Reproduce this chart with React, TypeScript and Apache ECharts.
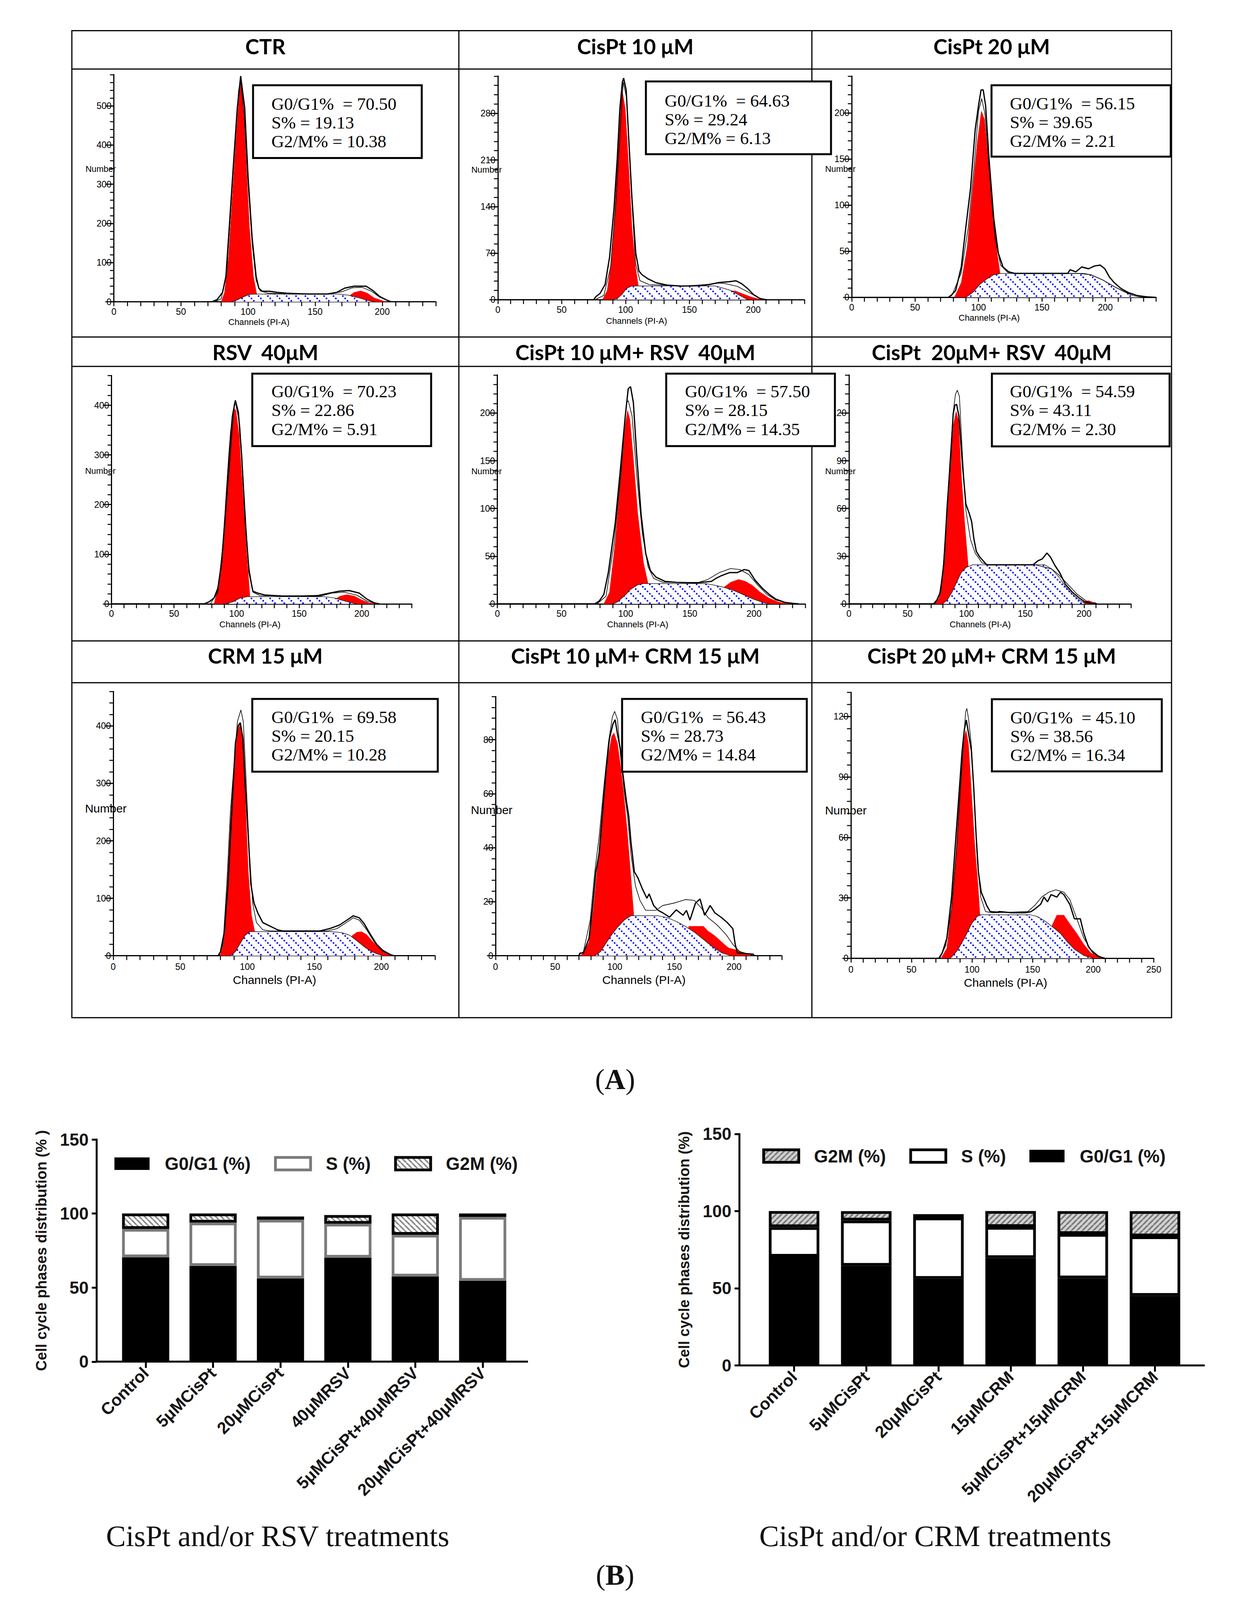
import React, { useEffect, useRef } from 'react';
import * as echarts from 'echarts';

const W = 3183;
const H = 4096;
// the photographed page is 4096px tall, the reference figure 4638px: vertical positions are compressed to fit
const SY = 4096 / 4638;
const Y = (v: number) => v * SY;

// ---------------- Panel A : cell-cycle histograms ----------------
const panelTitles = ['CTR', 'CisPt 10 μM', 'CisPt 20 μM', 'RSV  40μM', 'CisPt 10 μM+ RSV  40μM', 'CisPt  20μM+ RSV  40μM', 'CRM 15 μM', 'CisPt 10 μM+ CRM 15 μM', 'CisPt 20 μM+ CRM 15 μM'];
const g0g1Pct = [70.50, 64.63, 56.15, 70.23, 57.50, 54.59, 69.58, 56.43, 45.10];
const sPct = [19.13, 29.24, 39.65, 22.86, 28.15, 43.11, 20.15, 28.73, 38.56];
const g2mPct = [10.38, 6.13, 2.21, 5.91, 14.35, 2.30, 10.28, 14.84, 16.34];
const yTickValues = [[0, 100, 200, 300, 400, 500], [0, 70, 140, 210, 280], [0, 50, 100, 150, 200], [0, 100, 200, 300, 400], [0, 50, 100, 150, 200], [0, 30, 60, 90, 120], [0, 100, 200, 300, 400], [0, 20, 40, 60, 80], [0, 30, 60, 90, 120]];

const ctrEnv = [[0,0],[73,0],[77,6],[81,24],[83.5,65],[86,190],[89,345],[92,495],[94.5,576],[97.5,495],[100,320],[103,165],[106,65],[108,35],[110.5,27],[116,27],[122,24],[129,22],[144,20],[159,20],[166,24],[172,35],[179,40],[188,40],[193,29],[198,14],[203,5],[207,0]];
const ctrFit = [[75,0],[80,8],[84,70],[87,230],[90,400],[93,540],[94.5,565],[97,480],[100,300],[103,150],[106,55],[109,28],[115,22],[130,20],[160,20],[170,26],[178,36],[185,37],[192,27],[198,12],[205,2],[208,0]];
const ctrG1 = [[80,0],[82.5,24],[85.5,116],[88,253],[91,415],[94,560],[95.6,547],[98.4,370],[101,192],[104,65],[106.5,19],[106.6,0]];
const ctrS = [[88,0],[92,5],[96,12],[101,19],[106,20],[168,20],[175,17],[183,10],[190,3],[194,0]];
const ctrG2 = [[172,0],[174,12],[179,24],[184,28],[189,22],[194,10],[201,2],[204,0]];
const c10Env = [[0,0],[75,0],[77,5],[80,9.5],[84,23],[87.5,64],[91,138],[93.5,212],[95.5,286],[97.5,327],[98.5,333],[100.5,315],[102.5,242],[105,153],[108,70],[110.5,43],[113,37.5],[117.5,31.5],[124,25.5],[132.5,22],[143,20.5],[157,21],[166,23],[173.5,26],[180.5,27],[186.5,28.5],[191,24],[195.5,17],[200,8],[205,2],[210.5,0]];
const c10Fit = [[76,0],[83,6.5],[88.3,49],[92.7,153],[96.3,271],[98.2,327],[100.7,304],[104.3,168],[107.8,55],[111.3,28.7],[118.4,22.8],[146.8,20.7],[164.5,23],[173.4,25],[178.7,24],[187.6,20],[196.5,11],[203.5,3.5],[209,0]];
const c10G1 = [[82,0],[85.6,14],[88.3,49],[91.8,138],[94.5,227],[96.8,307],[97.5,313],[99.8,286],[102.5,197],[105,108],[107.8,49],[110,21],[110.1,0]];
const c10S = [[90,0],[93.6,2],[97.2,8],[100.7,17],[105,20.7],[170,20.7],[175,18.3],[182.3,14],[189.4,6.5],[195.6,0]];
const c10G2 = [[183,0],[183.1,13.3],[186,13.3],[191,9.5],[198,4.4],[203.5,1.5],[207,0]];
const c20Env = [[0,0],[76.3,0],[79,3],[82,7.5],[86.4,33],[90,76],[93.7,118],[97.4,182],[100,208],[102,225],[103.7,225],[105.6,208],[108.3,150],[112,86],[115.6,48],[119.3,33],[123.8,27.7],[128.4,26],[170.4,26],[172.2,30],[176.8,27.7],[181.4,33],[186.8,31],[191.4,34],[196,35],[199.6,31],[203.3,22],[207,16],[212.4,9.6],[218,5.3],[225,2],[232.5,0.6],[240,0]];
const c20Fit = [[76,0],[79,2],[86.4,26.7],[91.9,76],[96.4,140],[100,202],[102.5,215.6],[105,199.6],[108.3,140],[112.9,65],[117.4,35],[123,27],[130,26],[179.5,26],[188.7,24.5],[197.8,19],[207,11.7],[218,4.3],[229,1],[236,0]];
const c20G1 = [[81,0],[86.4,16],[91,54],[95.5,118],[99.2,170],[102.3,202],[104.7,193],[107.4,150],[111,97],[114.7,48],[117,26],[117.1,0]];
const c20S = [[90,0],[95.5,5.3],[101,14],[106.5,20],[112,24.5],[117.4,26],[183.2,26],[188.7,24.5],[197.8,19],[207,11.7],[214.2,6.4],[221.5,2],[229,0]];
const c20G2 = [[198,0],[203,7],[208,9],[213,5],[218,0]];
const rsvEnv = [[0,0],[74,0],[78,4],[82,12],[85,31.5],[88,83],[91,181],[94,300],[96.6,378],[99,410],[101.4,386],[104,300],[107,161.6],[110,63],[113,25.6],[116.8,21.7],[122.8,17.7],[136.6,15.8],[152.5,15.8],[164.4,16.5],[174.3,21.7],[182.2,25.6],[190,26.8],[198,21.7],[204,9.9],[210,2],[214,0]];
const rsvFit = [[79,0],[85,23.6],[90,142],[95,300],[98,402],[99.4,402],[102.6,358.6],[106,220.7],[109.3,82.8],[113,23.6],[118.8,16.5],[166,15],[176,21.7],[186,23.6],[196,17.7],[204,5.9],[212,0]];
const rsvG1 = [[82,0],[86,43],[89,122],[92,240],[95,347],[98,394],[99.4,390],[102,339],[105,220.7],[108,102.5],[110.5,19.7],[110.6,0]];
const rsvSPhase = [[91,0],[97,4],[103,12],[109,14.6],[170.3,14.6],[178,12],[186,6],[194,1],[196,0]];
const rsvG2 = [[177,0],[179,9.9],[183,15.8],[188,18.5],[194,15.8],[200,7.9],[206,2],[211,0]];
const c10rEnv = [[0,0],[75.9,0],[79.4,3],[83,10],[86.5,33],[91.8,84],[96.2,145.6],[99.7,197],[102,225.6],[103.8,227.7],[106,211],[108.6,156],[112,94],[115.6,53],[119.2,35],[123.6,28],[130.6,23.6],[139.5,22.6],[155.3,22],[162.4,23],[166.8,23.6],[170.3,26.7],[174.8,29.7],[181,32.8],[187,32.8],[192.4,36],[196,35],[201,24.6],[206.5,16.4],[211.8,10],[217,5],[224,1.6],[231,0.4],[234.8,0]];
const c10rFit = [[77.7,0],[84.7,8],[91,63.6],[96.2,135],[100.6,211],[102,213],[105,197],[108.6,135],[113,74],[117.4,39],[121.8,26.7],[128.9,22.6],[157,22.6],[164,25.6],[173,32.8],[181.8,37],[188.9,36],[196,30.8],[203,19.5],[210,10],[217,4],[226,1],[231,0]];
const c10rG1 = [[83,0],[87.4,12],[91.8,63.6],[95.3,119],[98.9,180.5],[101.5,202.7],[103.3,192.8],[106,151.8],[109.4,94.4],[113.9,43],[117.4,21.5],[117.5,0]];
const c10rS = [[90,0],[93.6,2],[98.9,8.2],[104,15.4],[109.4,20],[113.9,21.3],[162.4,21.3],[169.5,19.5],[176.5,17.4],[183.6,14.4],[190.6,10.3],[199.5,5],[208.3,1],[211.8,0]];
const c10rG2 = [[172,0],[176.5,17.4],[181.8,22.6],[188,25.6],[193.3,23.6],[198.6,19.5],[204.8,12.3],[211.8,6],[218.9,2],[226,0.4],[231,0]];
const c20rEnv = [[0,0],[72,0],[74.9,2.5],[77.8,7.4],[80.8,25.8],[83.7,62.8],[86.7,93.5],[88.7,119.4],[90.2,125],[91.6,125.5],[93.6,118],[96.6,87.4],[99.5,62.8],[102.5,56.6],[104.4,51.7],[106.4,40.6],[108.4,33],[111.3,29.5],[114.3,27],[117.2,24.6],[156.7,24.6],[160.6,27],[164.5,28.3],[168.5,32],[171.4,29.5],[175.4,24],[179.3,19.7],[184.2,12.3],[190,7.4],[196,3.7],[201,1.2],[206,0.2],[209,0.6],[210.8,0]];
const c20rFit = [[73,0],[76.8,5],[79.8,19.7],[82.8,50.5],[85.7,87.4],[88.7,120.6],[90.6,131.7],[92.2,134.4],[94,130.5],[96.6,93.5],[99.5,59],[103.4,40.6],[107.4,32],[113.3,25.8],[119.2,24.6],[158.6,24.6],[164.5,23.4],[172.4,22],[178.3,18.5],[186.2,12.3],[194,6.2],[202,1.8],[208,0]];
const c20rG1 = [[73,0],[76.8,3.7],[79.8,19.7],[82.8,44.3],[85.7,81.2],[88.7,112],[91.2,121],[93.2,115.7],[95.6,81.2],[98.5,50.5],[101.5,23.4],[101.6,0]];
const c20rS = [[79.8,0],[83.7,2.5],[87.7,7.4],[91.6,13.5],[95.6,19.7],[99.5,22.8],[105.4,24.6],[166.5,24.6],[172.4,22],[178.3,17.2],[184.2,11],[190,6.2],[196,2.5],[201,0.2],[202,0]];
const c20rG2 = [[196,0],[200,1.5],[204,2],[207,1.2],[210,0]];
const crmEnv = [[0,0],[78.2,0],[80,7],[82.8,41],[85.6,125],[88.4,251.6],[91.1,369.7],[93.3,401],[94.8,405.5],[96.7,378],[98.5,293.8],[100.7,209.5],[102.6,125],[105,91.5],[107.8,74.6],[111.5,57.7],[115.2,53.5],[118.9,49.3],[122.6,45.1],[126.2,43],[154,43],[161.4,47.2],[168.8,53.5],[174.3,62],[179,69.5],[183.5,66],[187.2,55.6],[191.9,36.7],[196.5,19.8],[201,9.3],[206.7,2],[209.4,0]];
const crmFit = [[79,0],[81.9,19.8],[84.7,125],[87.4,251.6],[90.2,336],[92.6,407.6],[95.2,427.8],[97,407.6],[98.9,315],[101.3,188.4],[104,91.5],[106.8,57.7],[111.5,45.1],[117,43],[159.5,43],[166.9,47.2],[172.5,55.6],[179,66],[183.5,62],[189,45.1],[194.6,24],[200.2,9.3],[205.7,2],[209.4,0]];
const crmG1 = [[79.7,0],[82.3,19.8],[84.7,104],[87.4,230.6],[90.2,336],[92.6,386.5],[94.8,405.5],[96.7,382],[98.5,272.7],[100.7,146.3],[103.1,70.4],[105.5,42],[105.6,0]];
const crmSPhase = [[87.4,0],[91.1,7],[94.8,22],[98.5,35.8],[102.2,42],[163.2,42],[170.6,40],[176.2,35.8],[181.7,26],[187.2,15.6],[192.8,7],[198.3,2],[202,0]];
const crmG2 = [[177,0],[178,34.6],[181.7,40.9],[185.4,41.7],[189,36.7],[193.7,24],[199.3,11.4],[204.8,3],[208.5,0]];
const c10cEnv = [[0,0],[69.9,0],[70.8,1],[73.7,1],[78.4,6.5],[81.3,17.7],[84.1,31],[87,38.3],[89.8,53.5],[92.7,68.8],[95.5,80.4],[98.4,85.8],[100.3,87.4],[102.2,82.2],[104.5,76.9],[106.9,67],[109.8,57.1],[111.7,51.7],[113.6,41.9],[116.4,31.1],[119.3,28.9],[123.1,24.8],[126.9,21.3],[128.8,22.9],[132.6,18.6],[136.4,16.8],[140.2,15.9],[145.9,14.3],[151.6,17],[157.3,15],[160.1,16.8],[163,13.2],[167.7,19.5],[171.5,21],[175.3,15],[180,18.6],[183.9,15.9],[189.6,14.1],[194.3,12.3],[199,10],[201,4.2],[202.8,1],[216,0.6],[217,0]];
const c10cFit = [[69,0],[73.7,1.5],[79.4,13.2],[83.2,31],[87,44.6],[90.8,62.5],[94.6,78.7],[98,88.5],[99.9,90.5],[102.2,87.6],[105,73.3],[107.9,60.7],[110.7,51.7],[113.6,37.4],[117.4,25.7],[121.2,20.4],[125.9,16.8],[134.5,16.8],[140.2,18.6],[149.7,19.5],[159.2,20.8],[166.8,20.5],[172.5,17.7],[178.2,14.1],[185.8,11.4],[193.4,7.8],[199,4.2],[204.8,1.5],[214.2,0.4],[216,0]];
const c10cG1 = [[70.8,0],[73.7,1],[78.4,5.1],[82.2,17.7],[86,35.6],[89.8,55.3],[93.6,71.5],[97.4,81.3],[99.3,82.5],[102.2,78.7],[105,69.7],[107.9,58],[110.7,44.6],[113.6,28.4],[115.9,15],[116,0]];
const c10cS = [[83.2,0],[88,1.5],[92.7,4.7],[97.4,7.8],[102.2,10.5],[107.9,13.2],[113.6,14.8],[136.4,14.8],[144,14.1],[151.6,12.7],[159.2,10.9],[166.8,8.7],[174.4,6],[182,3.3],[189.6,1.1],[197,0]];
const c10cG2 = [[161,0],[162,10.9],[174.4,10.9],[178.2,9.1],[183.9,7.4],[189.6,5.1],[195.3,2.9],[202.8,2],[208.5,1],[214.2,0]];
const c20cEnv = [[0,0],[72.5,0],[75.4,2.7],[79.2,9.9],[83.1,30.4],[86,54.6],[88.9,78.7],[91.8,102.9],[93.7,113.7],[95.3,118.3],[97.2,111.3],[99.5,102.9],[101.4,84.8],[103.4,60.6],[105.3,42.5],[107.6,32.8],[110.1,29.2],[112.1,26.2],[115,23.2],[120.8,22.9],[122.8,23.2],[132.4,22.6],[144,22.6],[148.8,23.2],[151.7,24.4],[156.6,26.8],[159.4,30.4],[162.3,28],[165.2,31.6],[170,30.4],[173,32.8],[175.8,31.6],[180.7,26.8],[184.5,19.6],[189.4,19.6],[192.3,12.3],[196.1,5.7],[200,2.7],[204.8,0.8],[209.7,0]];
const c20cFit = [[73.4,0],[78.3,6.3],[83.1,24.4],[87,52.2],[89.9,78.7],[92.8,106.5],[94.7,122.2],[95.7,124],[97.2,118.6],[99.5,105.3],[101.8,78.7],[104.3,48.5],[107.2,30.4],[111.1,23.2],[116.9,22.6],[145.9,23.2],[151.7,26.2],[157.5,30.4],[163.3,32.8],[169.1,34],[175.8,32.8],[180.7,29.2],[186.5,19.6],[192.3,9.9],[198,4.5],[203.9,1.4],[208.7,0]];
const c20cG1 = [[74.4,0],[79.2,5],[83.1,24.4],[87,54.6],[90.8,90.8],[93.3,108.9],[95,113.1],[97,106.5],[99.5,82.3],[102.4,54.6],[104.9,36.5],[106.5,21.4],[106.6,0]];
const c20cS = [[82.1,0],[87.9,3.9],[93.7,9.9],[99.5,17.1],[104.3,20.8],[107.2,21.6],[147.8,21.6],[153.6,20.8],[160.4,18.4],[167.1,15.3],[173,12.3],[178.7,8.1],[184.5,4.5],[192.3,1.4],[200,0]];
const c20cG2 = [[165.2,0],[166.2,16.5],[170,21.4],[175.8,21.4],[180.7,17.1],[186.5,12.3],[192.3,6.9],[198,2.7],[203.9,0.8],[208.7,0]];

const panelSeries = [
  { env: ctrEnv, fit: ctrFit, g1: ctrG1, s: ctrS, g2: ctrG2 },
  { env: c10Env, fit: c10Fit, g1: c10G1, s: c10S, g2: c10G2 },
  { env: c20Env, fit: c20Fit, g1: c20G1, s: c20S, g2: c20G2 },
  { env: rsvEnv, fit: rsvFit, g1: rsvG1, s: rsvSPhase, g2: rsvG2 },
  { env: c10rEnv, fit: c10rFit, g1: c10rG1, s: c10rS, g2: c10rG2 },
  { env: c20rEnv, fit: c20rFit, g1: c20rG1, s: c20rS, g2: c20rG2 },
  { env: crmEnv, fit: crmFit, g1: crmG1, s: crmSPhase, g2: crmG2 },
  { env: c10cEnv, fit: c10cFit, g1: c10cG1, s: c10cS, g2: c10cG2 },
  { env: c20cEnv, fit: c20cFit, g1: c20cG1, s: c20cS, g2: c20cG2 },
];

// ---------------- Panel B : stacked bars ----------------
const rsvCategories = ['Control', '5μMCisPt', '20μMCisPt', '40μMRSV', '5μMCisPt+40μMRSV', '20μMCisPt+40μMRSV'];
const crmCategories = ['Control', '5μMCisPt', '20μMCisPt', '15μMCRM', '5μMCisPt+15μMCRM', '20μMCisPt+15μMCRM'];
const barRsvG0G1 = [70.50, 64.63, 56.15, 70.23, 57.50, 54.59];
const barRsvS = [19.13, 29.24, 39.65, 22.86, 28.15, 43.11];
const barRsvG2M = [10.38, 6.13, 2.21, 5.91, 14.35, 2.30];
const barCrmG0G1 = [70.50, 64.63, 56.15, 69.58, 56.43, 45.10];
const barCrmS = [19.13, 29.24, 39.65, 20.15, 28.73, 38.56];
const barCrmG2M = [10.38, 6.13, 2.21, 10.28, 14.84, 16.34];

// layout in reference pixels (y values are compressed with Y()); nd/cd = small extra nudges for Number / Channels
const layout = [
  { g: [291.6, 216, 824.6, 659], xMax: 240, yMax: 580, minor: 20, box: [648, 247, 432, 211], tx: [695, 301], title: [679.5, 134], num: [258, 490], chan: [663, 928], nf: 22, lm: 14, nd: 0, cd: 5 },
  { g: [1274.8, 220.6, 785, 648.3], xMax: 240, yMax: 336, minor: 14, box: [1654, 236, 474, 211], tx: [1702, 292], title: [1627, 134], num: [1246, 488], chan: [1630, 924], nf: 22, lm: 14, nd: 4, cd: 5 },
  { g: [2181, 220.6, 779.3, 641.4], xMax: 240, yMax: 240, minor: 10, box: [2539, 247, 459, 207], tx: [2586, 300], title: [2539.5, 134], num: [2152, 483], chan: [2533, 915], nf: 22, lm: 14, nd: 6, cd: 5 },
  { g: [285.5, 1088.5, 769, 662], xMax: 240, yMax: 460, minor: 20, box: [646, 1083, 458, 210], tx: [695, 1135], title: [679.5, 1021], num: [257, 1365], chan: [640, 1804], nf: 22, lm: 14, nd: 0, cd: 5 },
  { g: [1273.6, 1086.8, 788.6, 663.7], xMax: 240, yMax: 240, minor: 10, box: [1706, 1083, 432, 210], tx: [1754, 1135], title: [1627, 1021], num: [1246, 1360], chan: [1633, 1804], nf: 22, lm: 14, nd: 5, cd: 5 },
  { g: [2173.9, 1086.8, 722.3, 663.7], xMax: 240, yMax: 144, minor: 6, box: [2540, 1083, 455, 211], tx: [2586, 1135], title: [2539.5, 1021], num: [2152, 1366], chan: [2510, 1804], nf: 22, lm: 14, nd: 0, cd: 5 },
  { g: [290, 2004.4, 824, 766], xMax: 240, yMax: 460, minor: 20, box: [646, 2026, 475, 211], tx: [695, 2079], title: [679.5, 1901], num: [271, 2343], chan: [703, 2836], nf: 30, lm: 17, nd: 0, cd: 4 },
  { g: [1269, 2019.1, 732.8, 751.3], xMax: 240, yMax: 96, minor: 4, box: [1593, 2026, 473, 211], tx: [1641, 2079], title: [1627, 1901], num: [1259, 2348], chan: [1649, 2836], nf: 30, lm: 17, nd: 0, cd: 4 },
  { g: [2178.9, 2007, 775.6, 770.9], xMax: 250, yMax: 132, minor: 6, box: [2540, 2027, 435, 209], tx: [2587, 2080], title: [2539.5, 1901], num: [2166, 2349], chan: [2575, 2844], nf: 30, lm: 17, nd: 0, cd: 4 },
];

function makeCanvas(size: number, draw: (ctx: CanvasRenderingContext2D) => void) {
  const c = document.createElement('canvas');
  c.width = size;
  c.height = size;
  const ctx = c.getContext('2d')!;
  draw(ctx);
  return c;
}

function buildOption() {
  const dotTile = makeCanvas(24, (ctx) => {
    ctx.fillStyle = '#ffffff';
    ctx.fillRect(0, 0, 24, 24);
    ctx.fillStyle = '#0a14ff';
    [0, 6, 12, 18].forEach((p) => ctx.fillRect(p, p, 4, 4));
  });
  const hatchLeft = makeCanvas(14, (ctx) => {
    ctx.fillStyle = '#ffffff';
    ctx.fillRect(0, 0, 14, 14);
    ctx.strokeStyle = '#8a8a8a';
    ctx.lineWidth = 4;
    [-14, 0, 14].forEach((x) => { ctx.beginPath(); ctx.moveTo(x, 0); ctx.lineTo(x + 14, 14); ctx.stroke(); });
  });
  const hatchRight = makeCanvas(14, (ctx) => {
    ctx.fillStyle = '#d2d2d2';
    ctx.fillRect(0, 0, 14, 14);
    ctx.strokeStyle = '#777777';
    ctx.lineWidth = 4;
    [-14, 0, 14].forEach((x) => { ctx.beginPath(); ctx.moveTo(x, 14); ctx.lineTo(x + 14, 0); ctx.stroke(); });
  });
  const dotPattern = { image: dotTile, repeat: 'repeat', imageWidth: 24, imageHeight: 24 };
  const patL = { image: hatchLeft, repeat: 'repeat', imageWidth: 14, imageHeight: 14 };
  const patR = { image: hatchRight, repeat: 'repeat', imageWidth: 14, imageHeight: 14 };

  const grid: any[] = [];
  const xAxis: any[] = [];
  const yAxis: any[] = [];
  const series: any[] = [];
  const graphic: any[] = [];
  const sans = '"Liberation Sans", Arial, sans-serif';
  const serif = '"Liberation Serif", "Times New Roman", serif';

  const frame = { x1: 184, y1: Y(89), x2: 3000, y2: Y(2950) };
  graphic.push({ type: 'rect', z: 1, shape: { x: frame.x1, y: frame.y1, width: frame.x2 - frame.x1, height: frame.y2 - frame.y1 }, style: { fill: 'none', stroke: '#000', lineWidth: 3 } });
  [1175, 2079].forEach((x) => graphic.push({ type: 'line', z: 1, shape: { x1: x, y1: frame.y1, x2: x, y2: frame.y2 }, style: { stroke: '#000', lineWidth: 3 } }));
  [200, 977, 1062, 1858, 1979].forEach((y) => graphic.push({ type: 'line', z: 1, shape: { x1: frame.x1, y1: Y(y), x2: frame.x2, y2: Y(y) }, style: { stroke: '#000', lineWidth: 3 } }));

  const lineGap = 54.5 * SY;
  layout.forEach((L, i) => {
    grid.push({ left: L.g[0], top: Y(L.g[1]), width: L.g[2], height: Y(L.g[3]) });
    xAxis.push({
      type: 'value', gridIndex: i, min: 0, max: L.xMax, interval: 10,
      axisLine: { show: true, onZero: false, lineStyle: { color: '#000', width: 3 } },
      axisTick: { show: true, length: 11, lineStyle: { color: '#000', width: 2.5 } },
      axisLabel: { formatter: (v: number) => (v % 50 === 0 ? String(v) : ''), fontSize: 23, color: '#000', fontFamily: sans, margin: L.lm },
      splitLine: { show: false },
    });
    yAxis[i] = {
      type: 'value', gridIndex: i, position: 'left', min: 0, max: L.yMax,
      axisLine: { show: true, lineStyle: { color: '#000', width: 3 } },
      axisTick: { show: true, length: 22, customValues: yTickValues[i], lineStyle: { color: '#000', width: 2.5 } },
      axisLabel: { customValues: yTickValues[i], fontSize: 23, color: '#000', fontFamily: sans, margin: 6 },
      splitLine: { show: false },
    };
    yAxis[9 + i] = {
      type: 'value', gridIndex: i, position: 'left', min: 0, max: L.yMax, interval: L.minor,
      axisLine: { show: false },
      axisTick: { show: true, length: 10, lineStyle: { color: '#000', width: 2.5 } },
      axisLabel: { show: false },
      splitLine: { show: false },
    };
    const d = panelSeries[i];
    const base = { type: 'line', xAxisIndex: i, yAxisIndex: i, symbol: 'none', showSymbol: false, silent: true };
    series.push({ ...base, name: 'G0/G1 fit ' + i, data: d.g1, z: 2, lineStyle: { color: '#ff0000', width: 1 }, areaStyle: { color: '#ff0000', opacity: 1 } });
    series.push({ ...base, name: 'G2/M fit ' + i, data: d.g2, z: 2, lineStyle: { color: '#ff0000', width: 1 }, areaStyle: { color: '#ff0000', opacity: 1 } });
    series.push({ ...base, name: 'S fit ' + i, data: d.s, z: 3, lineStyle: { color: '#222', width: 1.5 }, areaStyle: { color: dotPattern, opacity: 1 } });
    series.push({ ...base, name: 'model ' + i, data: d.fit, z: 4, lineStyle: { color: '#000', width: 1.6 } });
    series.push({ ...base, name: 'data ' + i, data: d.env, z: 5, lineStyle: { color: '#000', width: 3.2 } });

    graphic.push({ type: 'text', z: 20, x: L.title[0], y: Y(L.title[1]), style: { text: panelTitles[i], fontSize: 54, fontWeight: 'bold', fontFamily: 'Lato, "Open Sans", sans-serif', fill: '#000', align: 'center', verticalAlign: 'middle', textAlign: 'center', textVerticalAlign: 'middle' } });
    graphic.push({ type: 'rect', z: 30, shape: { x: L.box[0], y: Y(L.box[1]), width: L.box[2], height: Y(L.box[3]) }, style: { fill: '#fff', stroke: '#000', lineWidth: 5 } });
    const boxText = 'G0/G1%  = ' + g0g1Pct[i].toFixed(2) + '\nS% = ' + sPct[i].toFixed(2) + '\nG2/M% = ' + g2mPct[i].toFixed(2);
    graphic.push({ type: 'text', z: 31, x: L.tx[0], y: Y(L.tx[1]) - lineGap / 2, style: { text: boxText, fontSize: 45, lineHeight: lineGap, fontFamily: serif, fill: '#000', align: 'left', verticalAlign: 'top', textAlign: 'left', textVerticalAlign: 'top' } });
    graphic.push({ type: 'text', z: 20, x: L.num[0], y: Y(L.num[1]) + L.nd, style: { text: 'Number', fontSize: L.nf, fontFamily: sans, fill: '#000', align: 'center', verticalAlign: 'middle', textAlign: 'center', textVerticalAlign: 'middle' } });
    graphic.push({ type: 'text', z: 20, x: L.chan[0], y: Y(L.chan[1]) + L.cd, style: { text: 'Channels (PI-A)', fontSize: L.nf, fontFamily: sans, fill: '#000', align: 'center', verticalAlign: 'middle', textAlign: 'center', textVerticalAlign: 'middle' } });
  });

  const bars = [
    { grid: [286.7, 3303, 1035.6, 644], axisX: 247, axisEnd: 1352, cats: rsvCategories, g1: barRsvG0G1, s: barRsvS, g2: barRsvG2M, sBorder: '#7a7a7a', pat: patL, yName: 'Cell cycle phases distribution (% )', legendLeft: 293, legendMid: 3372, order: ['G0/G1 (%)', 'S (%)', 'G2M (%)'], stack: 'rsv' },
    { grid: [1941, 3287, 1109, 671], axisX: 1893, axisEnd: 3085, cats: crmCategories, g1: barCrmG0G1, s: barCrmS, g2: barCrmG2M, sBorder: '#000', pat: patR, yName: 'Cell cycle phases distribution (%)', legendLeft: 1952, legendMid: 3350, order: ['G2M (%)', 'S (%)', 'G0/G1 (%)'], stack: 'crm' },
  ];
  const legends: any[] = [];
  bars.forEach((B, k) => {
    const gi = 9 + k;
    const top = Y(B.grid[1]);
    const height = Y(B.grid[3]);
    grid.push({ left: B.grid[0], top, width: B.grid[2], height });
    xAxis.push({
      type: 'category', gridIndex: gi, data: B.cats,
      axisLine: { show: false },
      axisTick: { show: true, alignWithLabel: true, length: 16, lineStyle: { color: '#000', width: 5 } },
      axisLabel: { rotate: 45, interval: 0, fontSize: 43, fontWeight: 'bold', color: '#151515', fontFamily: sans, margin: 22 },
    });
    yAxis[18 + k] = {
      type: 'value', gridIndex: gi, position: 'left', offset: B.grid[0] - B.axisX, min: 0, max: 150, interval: 50,
      name: B.yName, nameLocation: 'middle', nameRotate: 90, nameGap: 122,
      nameTextStyle: { fontSize: 38, fontWeight: 'bold', color: '#151515', fontFamily: sans },
      axisLine: { show: true, lineStyle: { color: '#000', width: 5 } },
      axisTick: { show: true, length: 12, lineStyle: { color: '#000', width: 5 } },
      axisLabel: { fontSize: 44, fontWeight: 'bold', color: '#151515', fontFamily: sans, margin: 20 },
      splitLine: { show: false },
    };
    const y0 = top + height;
    graphic.push({ type: 'line', z: 50, shape: { x1: B.axisX, y1: y0, x2: B.axisEnd, y2: y0 }, style: { stroke: '#000', lineWidth: 5 } });
    const styles: any = {
      'G0/G1 (%)': { color: '#000', borderColor: '#000', borderWidth: 0 },
      'S (%)': { color: '#fff', borderColor: B.sBorder, borderWidth: 7 },
      'G2M (%)': { color: B.pat, borderColor: '#000', borderWidth: 7 },
    };
    const vals: any = { 'G0/G1 (%)': B.g1, 'S (%)': B.s, 'G2M (%)': B.g2 };
    ['G0/G1 (%)', 'S (%)', 'G2M (%)'].forEach((nm) => {
      series.push({ type: 'bar', name: nm, xAxisIndex: gi, yAxisIndex: 18 + k, stack: B.stack, barWidth: '70%', data: vals[nm], itemStyle: styles[nm], silent: true, z: 2 });
    });
    legends.push({
      left: B.legendLeft, top: Y(B.legendMid) - 22, orient: 'horizontal', padding: 0, itemWidth: 90, itemHeight: 32, itemGap: 60, icon: 'rect', selectedMode: false,
      data: B.order.map((nm) => ({ name: nm, icon: 'rect', itemStyle: styles[nm] })),
      textStyle: { fontSize: 46, fontWeight: 'bold', color: '#151515', fontFamily: sans, padding: [0, 0, 0, 34], lineHeight: 44 },
    });
  });

  const capStyle = { fontFamily: serif, fill: '#111', align: 'center', verticalAlign: 'middle', textAlign: 'center', textVerticalAlign: 'middle' };
  graphic.push({ type: 'text', z: 20, x: 1575, y: Y(3129), style: { ...capStyle, text: '({b|A})', fontSize: 74, rich: { b: { fontWeight: 'bold', fontSize: 74, fontFamily: serif, fill: '#111' } } } });
  graphic.push({ type: 'text', z: 20, x: 1575, y: Y(4566), style: { ...capStyle, text: '({b|B})', fontSize: 74, rich: { b: { fontWeight: 'bold', fontSize: 74, fontFamily: serif, fill: '#111' } } } });
  graphic.push({ type: 'text', z: 20, x: 711, y: Y(4452), style: { ...capStyle, text: 'CisPt and/or RSV treatments', fontSize: 76 } });
  graphic.push({ type: 'text', z: 20, x: 2395, y: Y(4452), style: { ...capStyle, text: 'CisPt and/or CRM treatments', fontSize: 76 } });

  return { animation: false, backgroundColor: '#ffffff', grid, xAxis, yAxis, series, legend: legends, graphic };
}

export default function App() {
  const ref = useRef<HTMLDivElement>(null);
  useEffect(() => {
    const chart = echarts.init(ref.current!, null, { renderer: 'svg', width: W, height: H });
    chart.setOption(buildOption() as any);
    return () => chart.dispose();
  }, []);
  return <div ref={ref} style={{ position: 'absolute', left: 0, top: 0, width: W, height: H, background: '#fff' }} />;
}
